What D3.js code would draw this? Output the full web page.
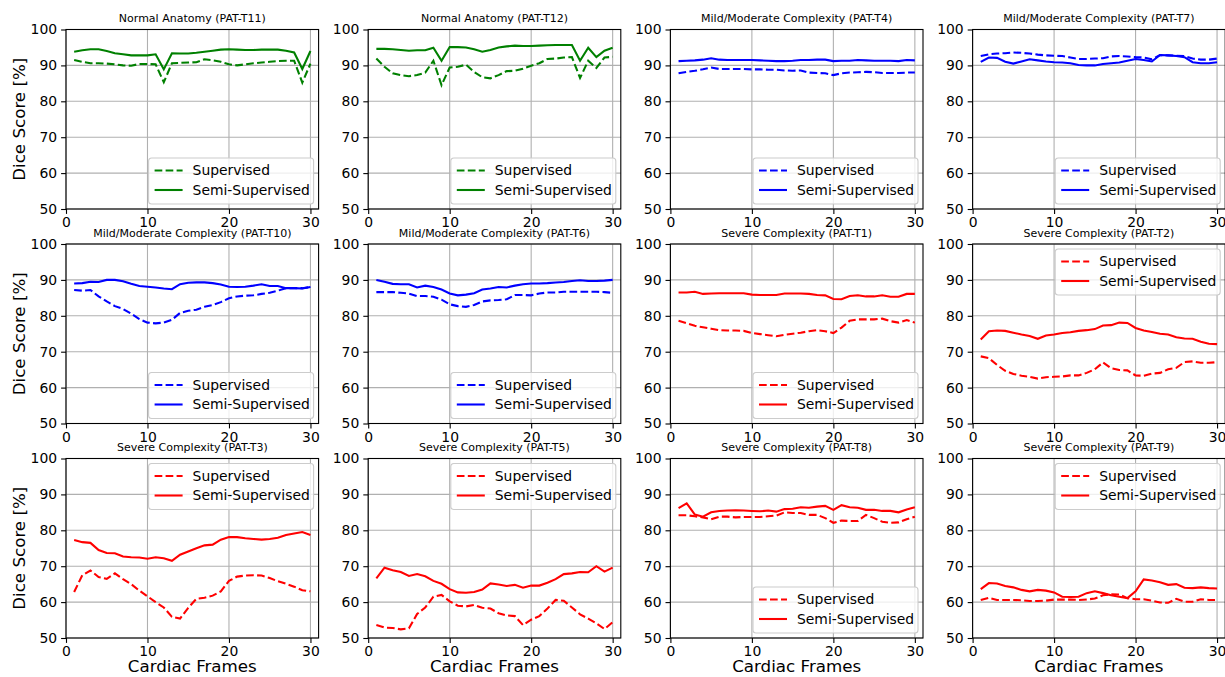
<!DOCTYPE html>
<html>
<head>
<meta charset="utf-8">
<script src="https://cdn.jsdelivr.net/npm/d3@7"></script>
<style>
  body { margin: 0; background: #fff; }
  svg { font-family: "DejaVu Sans", sans-serif; }
</style>
</head>
<body>
<svg id="chart" width="1225" height="677"></svg>
<script>
// frames 1..30
const frames = d3.range(1, 31)

const titles = [
    "Normal Anatomy (PAT-T11)", "Normal Anatomy (PAT-T12)",
    "Mild/Moderate Complexity (PAT-T4)", "Mild/Moderate Complexity (PAT-T7)",
    "Mild/Moderate Complexity (PAT-T10)", "Mild/Moderate Complexity (PAT-T6)",
    "Severe Complexity (PAT-T1)", "Severe Complexity (PAT-T2)",
    "Severe Complexity (PAT-T3)", "Severe Complexity (PAT-T5)",
    "Severe Complexity (PAT-T8)", "Severe Complexity (PAT-T9)"
]
const panel_colors = ["#008000", "#008000", "#0000ff", "#0000ff", "#0000ff", "#0000ff",
    "#ff0000", "#ff0000", "#ff0000", "#ff0000", "#ff0000", "#ff0000"]
const legend_pos = ["lower", "lower", "lower", "lower", "lower", "lower",
    "lower", "upper", "upper", "upper", "lower", "upper"]

const supervised = [
    [91.5, 91.0, 90.6, 90.6, 90.5, 90.3, 90.0, 89.9, 90.4, 90.4, 90.3, 85.3, 90.6, 90.7, 90.8, 90.9, 91.7, 91.4, 91.0, 90.3, 90.0, 90.3, 90.6, 90.8, 91.0, 91.2, 91.3, 91.3, 85.2, 90.5],
    [91.9, 89.6, 87.8, 87.3, 87.0, 87.3, 88.0, 91.3, 84.5, 89.4, 89.6, 90.2, 88.2, 86.7, 86.4, 87.3, 88.4, 88.5, 89.1, 89.9, 90.6, 91.8, 91.9, 92.2, 92.3, 86.5, 91.3, 89.3, 92.2, 92.4],
    [87.8, 88.2, 88.5, 88.9, 89.4, 89.0, 89.0, 89.0, 89.0, 88.9, 88.9, 88.8, 88.8, 88.6, 88.5, 88.6, 88.0, 87.9, 87.8, 87.3, 87.8, 88.0, 88.1, 88.2, 88.1, 87.9, 87.9, 87.9, 88.0, 88.0],
    [92.6, 93.1, 93.3, 93.4, 93.6, 93.5, 93.3, 93.0, 92.8, 92.7, 92.6, 92.2, 91.8, 91.8, 91.9, 92.0, 92.5, 92.6, 92.5, 92.3, 92.2, 91.7, 92.9, 92.8, 92.7, 92.6, 91.9, 91.6, 91.6, 91.9],
    [87.2, 87.0, 87.2, 85.4, 84.0, 82.7, 81.9, 80.6, 79.1, 78.1, 77.9, 78.1, 78.9, 80.8, 81.4, 81.7, 82.5, 83.0, 83.8, 84.9, 85.4, 85.6, 85.7, 86.1, 86.4, 87.0, 87.7, 87.7, 87.7, 88.0],
    [86.6, 86.6, 86.6, 86.4, 86.2, 85.5, 85.5, 85.3, 84.5, 83.2, 82.7, 82.5, 83.0, 84.0, 84.3, 84.4, 84.6, 85.8, 85.8, 85.7, 86.2, 86.5, 86.5, 86.7, 86.7, 86.7, 86.7, 86.7, 86.6, 86.4],
    [78.6, 77.9, 77.2, 76.8, 76.4, 76.0, 75.9, 75.9, 75.8, 75.2, 74.9, 74.6, 74.3, 74.7, 75.0, 75.3, 75.7, 76.0, 75.7, 75.2, 76.7, 78.6, 79.0, 79.0, 79.0, 79.2, 78.5, 78.1, 78.8, 78.1],
    [68.7, 68.2, 66.3, 64.7, 63.8, 63.3, 63.0, 62.5, 62.9, 63.0, 63.1, 63.4, 63.4, 64.1, 65.1, 67.0, 65.4, 64.9, 64.8, 63.4, 63.3, 63.9, 64.1, 65.1, 65.5, 67.1, 67.3, 66.9, 66.9, 67.1],
    [62.8, 67.5, 68.8, 67.0, 66.5, 68.0, 66.4, 65.0, 63.2, 61.6, 60.0, 58.5, 55.9, 55.4, 58.4, 60.9, 61.2, 61.8, 63.0, 65.9, 67.1, 67.4, 67.5, 67.4, 66.7, 65.8, 65.1, 64.3, 63.3, 63.0],
    [53.6, 52.9, 52.8, 52.4, 52.7, 56.7, 58.5, 61.5, 62.0, 60.2, 59.0, 58.8, 59.2, 58.4, 58.2, 56.9, 56.3, 56.1, 53.6, 55.1, 56.1, 58.2, 60.6, 60.4, 58.5, 56.6, 55.4, 54.1, 52.5, 54.4],
    [84.2, 84.2, 83.9, 83.6, 83.1, 83.8, 83.8, 83.6, 83.7, 83.7, 83.7, 83.9, 84.1, 85.0, 84.8, 84.8, 84.3, 84.3, 83.4, 82.1, 82.7, 82.6, 82.6, 84.3, 83.4, 82.4, 82.1, 82.2, 83.1, 83.8],
    [60.6, 61.2, 60.6, 60.6, 60.6, 60.5, 60.3, 60.3, 60.4, 60.7, 60.7, 60.7, 60.6, 60.7, 61.0, 61.9, 62.2, 62.1, 61.1, 60.8, 60.8, 60.4, 59.9, 59.8, 60.9, 60.1, 60.1, 60.8, 60.6, 60.6]
]

const semi_supervised = [
    [93.8, 94.2, 94.5, 94.5, 94.0, 93.4, 93.1, 92.8, 92.8, 92.8, 93.1, 88.9, 93.4, 93.3, 93.3, 93.5, 93.8, 94.1, 94.4, 94.5, 94.4, 94.3, 94.3, 94.4, 94.4, 94.4, 94.1, 93.6, 89.0, 94.0],
    [94.6, 94.6, 94.5, 94.3, 94.1, 94.2, 94.2, 94.9, 91.3, 95.1, 95.1, 95.0, 94.5, 93.8, 94.3, 95.0, 95.3, 95.5, 95.4, 95.4, 95.5, 95.6, 95.7, 95.7, 95.7, 91.3, 94.9, 92.3, 94.1, 94.9],
    [91.2, 91.3, 91.4, 91.6, 92.0, 91.6, 91.5, 91.5, 91.5, 91.5, 91.4, 91.3, 91.2, 91.2, 91.3, 91.5, 91.5, 91.6, 91.6, 91.2, 91.3, 91.3, 91.5, 91.4, 91.3, 91.3, 91.3, 91.2, 91.5, 91.4],
    [91.0, 92.2, 92.1, 91.0, 90.5, 91.1, 91.7, 91.4, 91.1, 90.9, 90.8, 90.6, 90.1, 90.0, 90.0, 90.4, 90.6, 90.8, 91.3, 91.8, 91.5, 91.1, 92.9, 92.8, 92.6, 92.3, 90.9, 90.6, 90.6, 90.9],
    [89.0, 89.1, 89.5, 89.4, 90.0, 90.0, 89.6, 88.9, 88.3, 88.1, 87.9, 87.6, 87.4, 88.8, 89.2, 89.3, 89.3, 89.1, 88.7, 88.1, 88.0, 88.1, 88.4, 88.8, 88.3, 88.3, 87.7, 87.7, 87.6, 88.0],
    [90.0, 89.5, 88.9, 88.8, 88.8, 87.9, 88.4, 88.0, 87.3, 86.2, 85.7, 85.9, 86.3, 87.3, 87.6, 88.0, 87.9, 88.4, 88.8, 89.0, 89.0, 89.1, 89.3, 89.4, 89.7, 89.9, 89.7, 89.7, 89.8, 90.0],
    [86.5, 86.5, 86.7, 86.1, 86.2, 86.3, 86.3, 86.3, 86.3, 85.9, 85.8, 85.8, 85.8, 86.2, 86.2, 86.2, 86.1, 85.8, 85.7, 84.7, 84.6, 85.5, 85.7, 85.4, 85.4, 85.7, 85.3, 85.3, 86.1, 86.1],
    [73.4, 75.7, 75.9, 75.8, 75.3, 74.8, 74.4, 73.6, 74.5, 74.8, 75.2, 75.4, 75.8, 76.0, 76.3, 77.3, 77.4, 78.1, 78.0, 76.6, 75.9, 75.5, 75.0, 74.8, 74.0, 73.7, 73.6, 72.8, 72.2, 72.1],
    [77.3, 76.7, 76.5, 74.5, 73.7, 73.6, 72.7, 72.5, 72.4, 72.1, 72.5, 72.2, 71.5, 73.2, 74.1, 75.0, 75.8, 76.0, 77.4, 78.1, 78.1, 77.8, 77.6, 77.4, 77.6, 77.9, 78.7, 79.1, 79.5, 78.7],
    [66.6, 69.6, 68.9, 68.4, 67.3, 67.8, 67.2, 65.9, 65.1, 63.6, 62.7, 62.6, 62.8, 63.5, 65.2, 64.9, 64.5, 64.8, 64.0, 64.6, 64.6, 65.4, 66.4, 67.8, 68.0, 68.4, 68.3, 70.0, 68.5, 69.6],
    [86.2, 87.5, 84.4, 83.8, 85.0, 85.4, 85.5, 85.6, 85.5, 85.4, 85.3, 85.5, 85.2, 85.9, 86.0, 86.4, 86.3, 86.6, 86.8, 85.7, 87.0, 86.4, 86.3, 85.7, 85.7, 85.4, 85.4, 85.0, 85.8, 86.4],
    [63.6, 65.3, 65.2, 64.5, 64.1, 63.4, 63.0, 63.4, 63.2, 62.7, 61.5, 61.4, 61.5, 62.5, 63.0, 62.5, 61.9, 61.5, 61.1, 63.0, 66.3, 66.0, 65.5, 64.8, 65.0, 64.0, 63.9, 64.1, 63.9, 63.8]
]

const x_ticks = [0, 10, 20, 30]
const y_ticks = [50, 60, 70, 80, 90, 100]
const series_names = ["Supervised", "Semi-Supervised"]

const svg = d3.select("#chart")
const W = 252.6, H = 179.5
const left0 = 66, col_step = 302.2
const top0 = 29.5, row_step = 214.5

const x = d3.scaleLinear().domain([0, 31]).range([0, W])
const y = d3.scaleLinear().domain([50, 100]).range([H, 0])
const line = d3.line().x((d, i) => x(frames[i])).y(d => y(d))

titles.forEach((title, k) => {
    const col = k % 4, row = Math.floor(k / 4)
    const g = svg.append("g")
        .attr("transform", `translate(${left0 + col * col_step},${top0 + row * row_step})`)
    const color = panel_colors[k]

    // grid
    g.append("g").selectAll("line").data(x_ticks).join("line")
        .attr("x1", d => x(d)).attr("x2", d => x(d)).attr("y1", 0).attr("y2", H)
        .attr("stroke", "#b0b0b0").attr("stroke-width", 1.1)
    g.append("g").selectAll("line").data(y_ticks).join("line")
        .attr("y1", d => y(d)).attr("y2", d => y(d)).attr("x1", 0).attr("x2", W)
        .attr("stroke", "#b0b0b0").attr("stroke-width", 1.1)

    // axes
    const xa = g.append("g").attr("transform", `translate(0,${H})`)
        .call(d3.axisBottom(x).tickValues(x_ticks).tickSizeOuter(0).tickSize(4.9).tickPadding(3.5))
    const ya = g.append("g")
        .call(d3.axisLeft(y).tickValues(y_ticks).tickSizeOuter(0).tickSize(4.9).tickPadding(4))
    ;[xa, ya].forEach(a => {
        a.select(".domain").remove()
        a.selectAll("text").attr("font-size", "13.9px").attr("fill", "#000")
            .attr("font-family", "DejaVu Sans")
        a.selectAll("line").attr("stroke", "#000").attr("stroke-width", 1.1)
    })

    // lines
    g.append("path").datum(supervised[k]).attr("d", line)
        .attr("fill", "none").attr("stroke", color).attr("stroke-width", 2.08)
        .attr("stroke-dasharray", "7.7,3.3")
    g.append("path").datum(semi_supervised[k]).attr("d", line)
        .attr("fill", "none").attr("stroke", color).attr("stroke-width", 2.08)

    // frame
    g.append("rect").attr("width", W).attr("height", H)
        .attr("fill", "none").attr("stroke", "#000").attr("stroke-width", 1.1)

    // title
    g.append("text").attr("x", W / 2).attr("y", -7.5)
        .attr("text-anchor", "middle").attr("font-size", "11px").text(title)

    // legend
    const lw = 165, lh = 46
    const lx = W - lw - 5
    const ly = legend_pos[k] === "lower" ? H - lh - 5 : 5
    const lg = g.append("g").attr("transform", `translate(${lx},${ly})`)
    lg.append("rect").attr("width", lw).attr("height", lh).attr("rx", 3)
        .attr("fill", "#fff").attr("fill-opacity", 0.8)
        .attr("stroke", "#cccccc").attr("stroke-width", 1.1)
    series_names.forEach((name, i) => {
        const cy = 12.5 + i * 19.5
        lg.append("line").attr("x1", 6).attr("x2", 34).attr("y1", cy).attr("y2", cy)
            .attr("stroke", color).attr("stroke-width", 2.08)
            .attr("stroke-dasharray", i === 0 ? "7.7,3.3" : null)
        lg.append("text").attr("x", 44).attr("y", cy).attr("dy", "0.35em")
            .attr("font-size", "13.9px").text(name)
    })

    if (row === 2) {
        g.append("text").attr("x", W / 2).attr("y", H + 34)
            .attr("text-anchor", "middle").attr("font-size", "16.7px").text("Cardiac Frames")
    }
    if (col === 0) {
        g.append("text").attr("transform", `translate(-41,${H / 2}) rotate(-90)`)
            .attr("text-anchor", "middle").attr("font-size", "16.7px").text("Dice Score [%]")
    }
})
</script>
</body>
</html>
